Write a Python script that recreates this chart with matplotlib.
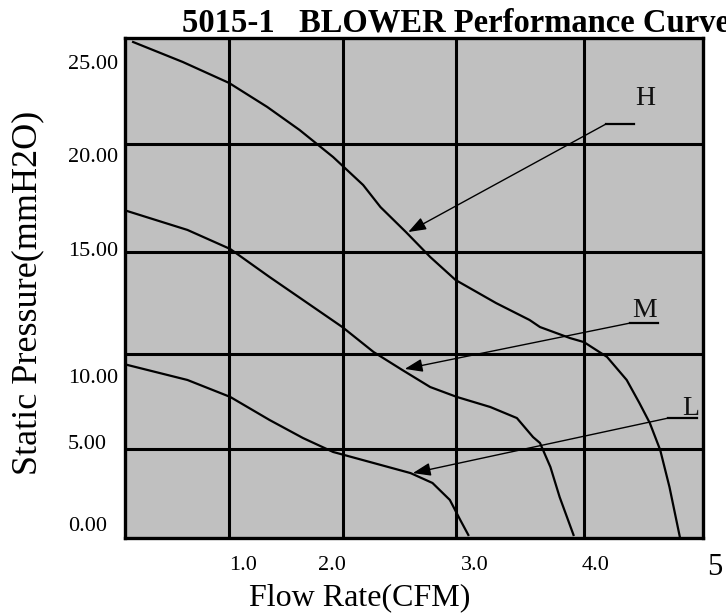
import matplotlib.pyplot as plt

plt.rcParams['font.family'] = ['Liberation Serif', 'DejaVu Serif']

# Data
h_flow = [0.07, 0.50, 0.90, 1.23, 1.51, 1.80, 2.06, 2.21, 2.43, 2.64, 2.86, 3.21,
          3.50, 3.59, 3.85, 3.97, 4.17, 4.34, 4.45, 4.54, 4.63, 4.71, 4.80]
h_press = [26.05, 25.00, 23.90, 22.64, 21.43, 20.01, 18.54, 17.38, 16.07, 14.76, 13.55, 12.34,
           11.45, 11.08, 10.50, 10.29, 9.51, 8.30, 7.09, 6.04, 4.62, 2.68, 0.05]

m_flow = [0.02, 0.54, 0.91, 1.25, 1.54, 1.88, 2.15, 2.40, 2.64, 2.87, 3.16, 3.39,
          3.53, 3.59, 3.68, 3.76, 3.88]
m_press = [17.17, 16.18, 15.18, 13.71, 12.50, 11.08, 9.77, 8.82, 7.93, 7.41, 6.88, 6.30,
           5.30, 4.99, 3.73, 2.15, 0.16]

l_flow = [0.02, 0.54, 0.91, 1.25, 1.54, 1.80, 2.15, 2.47, 2.66, 2.81, 2.90, 2.97]
l_press = [9.09, 8.30, 7.41, 6.20, 5.25, 4.52, 3.94, 3.41, 2.89, 2.00, 0.95, 0.16]

# grid lines as drawn (irregular in the original)
grid_x = [0.90, 1.89, 2.86, 3.97]
grid_y = [20.70, 15.02, 9.66, 4.67]

xtick_labels = ['1.0', '2.0', '3.0', '4.0']
xtick_pos = [1.02, 1.79, 3.03, 4.07]
ytick_labels = ['25.00', '20.00', '15.00', '10.00', '5.00', '0.00']
ytick_pos = [25.0, 20.12, 15.18, 8.51, 5.04, 0.74]

# speed labels: (name, text pos, underline x range, underline y, arrow tip)
speed_labels = [
    ('H', (4.50, 22.74), (4.16, 4.40), 21.74, (2.45, 16.07)),
    ('M', (4.49, 11.61), (4.37, 4.61), 11.29, (2.42, 8.88)),
    ('L', (4.89, 6.46), (4.70, 4.95), 6.30, (2.49, 3.41)),
]

fig = plt.figure(figsize=(7.26, 6.16), dpi=100)
ax = fig.add_axes([0.1722, 0.1266, 0.7961, 0.8117])
ax.set_facecolor('#c0c0c0')
ax.set_xlim(0, 5)
ax.set_ylim(0, 26.26)

for gx in grid_x:
    ax.axvline(gx, color='black', lw=2.2, zorder=1)
for gy in grid_y:
    ax.axhline(gy, color='black', lw=2.2, zorder=1)
for s in ax.spines.values():
    s.set_linewidth(2.4)

ax.plot(h_flow, h_press, color='black', lw=1.6, zorder=2)
ax.plot(m_flow, m_press, color='black', lw=1.6, zorder=2)
ax.plot(l_flow, l_press, color='black', lw=1.6, zorder=2)

for name, tpos, (ux0, ux1), uy, tip in speed_labels:
    ax.text(tpos[0], tpos[1], name, fontsize=20, ha='center', va='baseline', color='#111111')
    ax.plot([ux0, ux1], [uy, uy], color='black', lw=1.6)
    ax.annotate('', xy=tip, xytext=(ux0, uy),
                arrowprops=dict(arrowstyle='-|>,head_length=0.6,head_width=0.22',
                                mutation_scale=18, lw=1.0, color='black',
                                shrinkA=0, shrinkB=0))

# ticks
ax.set_xticks(xtick_pos, xtick_labels, fontsize=16)
ax.set_yticks(ytick_pos, ytick_labels, fontsize=16)
ax.tick_params(axis='x', length=0, pad=13)
ax.tick_params(axis='y', length=0, pad=41)
for lab in ax.get_yticklabels():
    lab.set_ha('left')
ax.text(5.04, -0.03, '5', transform=ax.get_xaxis_transform(), fontsize=22,
        ha='left', va='top', clip_on=False)

ax.set_xlabel('Flow Rate(CFM)', fontsize=23)
ax.xaxis.set_label_coords(0.4066, -0.134)
ax.xaxis.label.set_va('baseline')
ax.set_ylabel('Static Pressure(mmH2O)', fontsize=26)
ax.yaxis.set_label_coords(-0.168, 0.49)
ax.yaxis.label.set_va('center')

ax.set_title('5015-1   BLOWER Performance Curve', fontsize=23.5, fontweight='bold',
             x=0.0986, ha='left', pad=4)

plt.savefig('out.png', dpi=100)
